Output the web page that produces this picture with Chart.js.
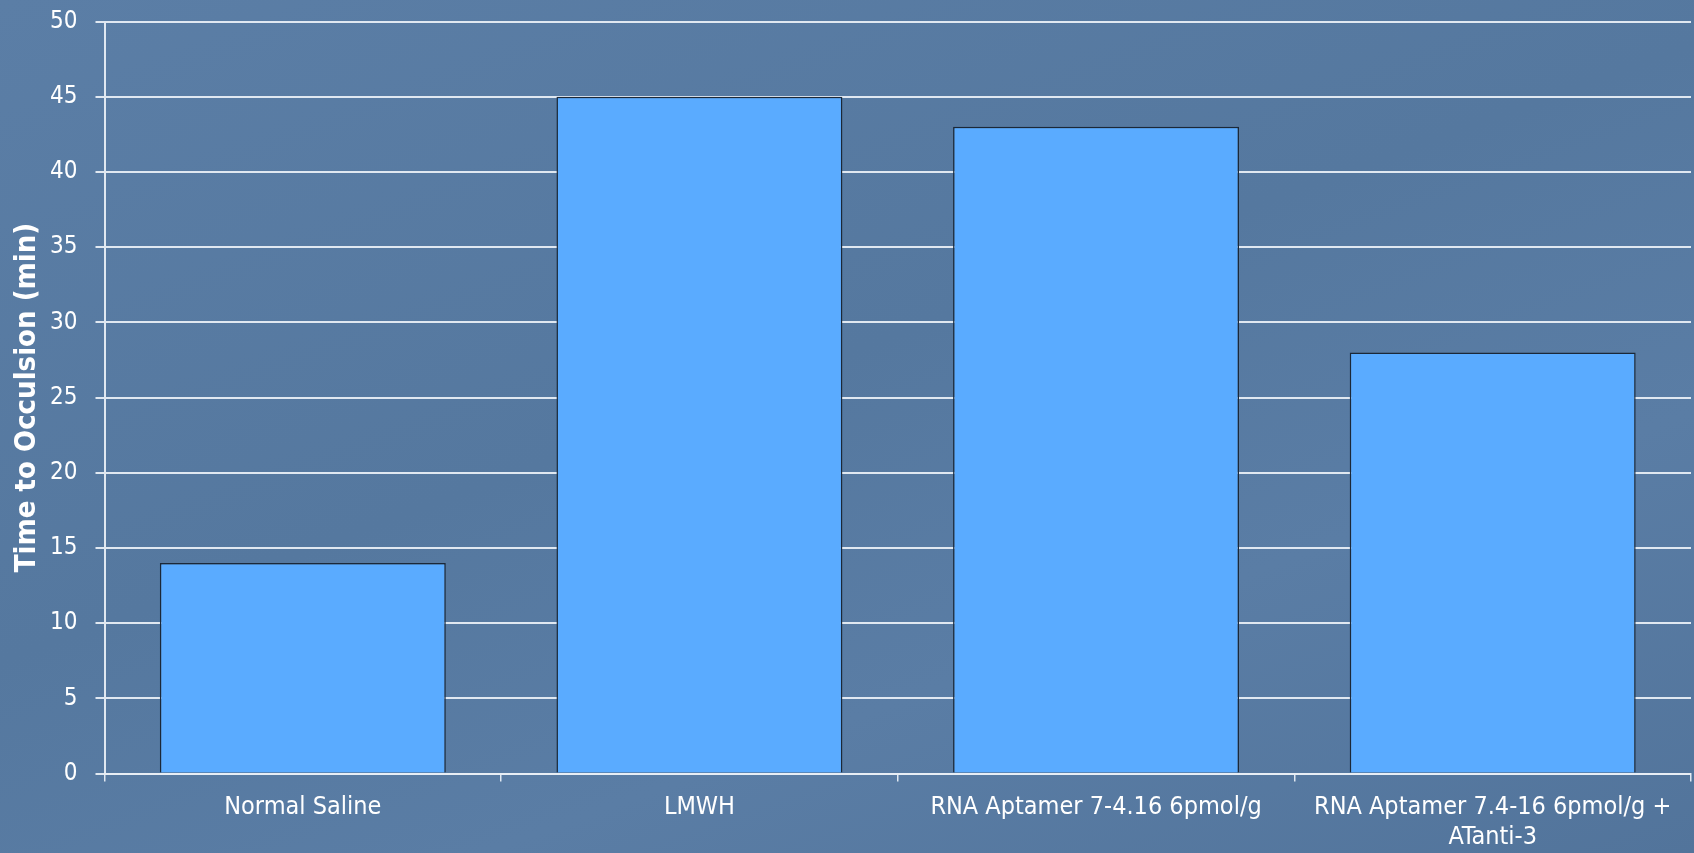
<!DOCTYPE html>
<html>
<head>
<meta charset="utf-8">
<script src="https://cdn.jsdelivr.net/npm/chart.js@4/dist/chart.umd.min.js"></script>
<style>
  html, body { margin: 0; padding: 0; }
  body {
    width: 1694px; height: 853px; overflow: hidden;
    background: linear-gradient(160deg, #5b7ea6 0%, #55789f 45%, #5a7da5 70%, #52749b 100%);
  }
  #wrap { position: absolute; left: 0; top: 0; width: 1694px; height: 853px; }
</style>
</head>
<body>
<div id="wrap"><canvas id="chart" width="1694" height="853"></canvas></div>
<script>
// Treatment groups and mean time to occlusion (minutes)
const categories = [
  "Normal Saline",
  "LMWH",
  "RNA Aptamer 7-4.16 6pmol/g",
  ["RNA Aptamer 7.4-16 6pmol/g +", "ATanti-3"]
];
const occlusionMinutes = [14, 45, 43, 28];
const yTicks = [0, 5, 10, 15, 20, 25, 30, 35, 40, 45, 50];
const yTitle = "Time to Occulsion (min)";

const FONT = "'DejaVu Sans Condensed', 'DejaVu Sans', sans-serif";
const LINE = "rgba(232,238,245,0.95)";

new Chart(document.getElementById("chart"), {
  type: "bar",
  data: {
    labels: categories,
    datasets: [{
      data: occlusionMinutes,
      backgroundColor: "#5aabff",
      borderColor: "#1b2838",
      borderWidth: 1.5,
      borderSkipped: "bottom",
      categoryPercentage: 1,
      barPercentage: 0.721
    }]
  },
  options: {
    responsive: false,
    animation: false,
    layout: { padding: { top: 21.5, right: 3, left: 0, bottom: 0 } },
    plugins: { legend: { display: false }, tooltip: { enabled: false } },
    scales: {
      x: {
        offset: true,
        grid: {
          offset: true,
          drawOnChartArea: false,
          drawTicks: true,
          tickLength: 8,
          color: LINE,
          lineWidth: 1.5
        },
        border: { display: true, color: LINE, width: 2 },
        ticks: {
          color: "#ffffff",
          font: { family: FONT, size: 25 },
          padding: 11,
          maxRotation: 0,
          autoSkip: false
        },
        afterFit: (s) => { s.height = 79.5; }
      },
      y: {
        min: 0,
        max: 50,
        afterBuildTicks: (s) => { s.ticks = yTicks.map(v => ({ value: v })); },
        grid: {
          color: LINE,
          lineWidth: 2,
          tickLength: 9
        },
        border: { display: true, color: LINE, width: 2 },
        ticks: {
          color: "#ffffff",
          font: { family: FONT, size: 24 },
          padding: 18
        },
        title: {
          display: true,
          text: yTitle,
          color: "#ffffff",
          font: { family: FONT, size: 29, weight: "bold" },
          padding: { top: 10, bottom: 0 }
        },
        afterFit: (s) => { s.width = 104.5; s.paddingTop = 0; s.paddingBottom = 0; }
      }
    }
  }
});
</script>
</body>
</html>
